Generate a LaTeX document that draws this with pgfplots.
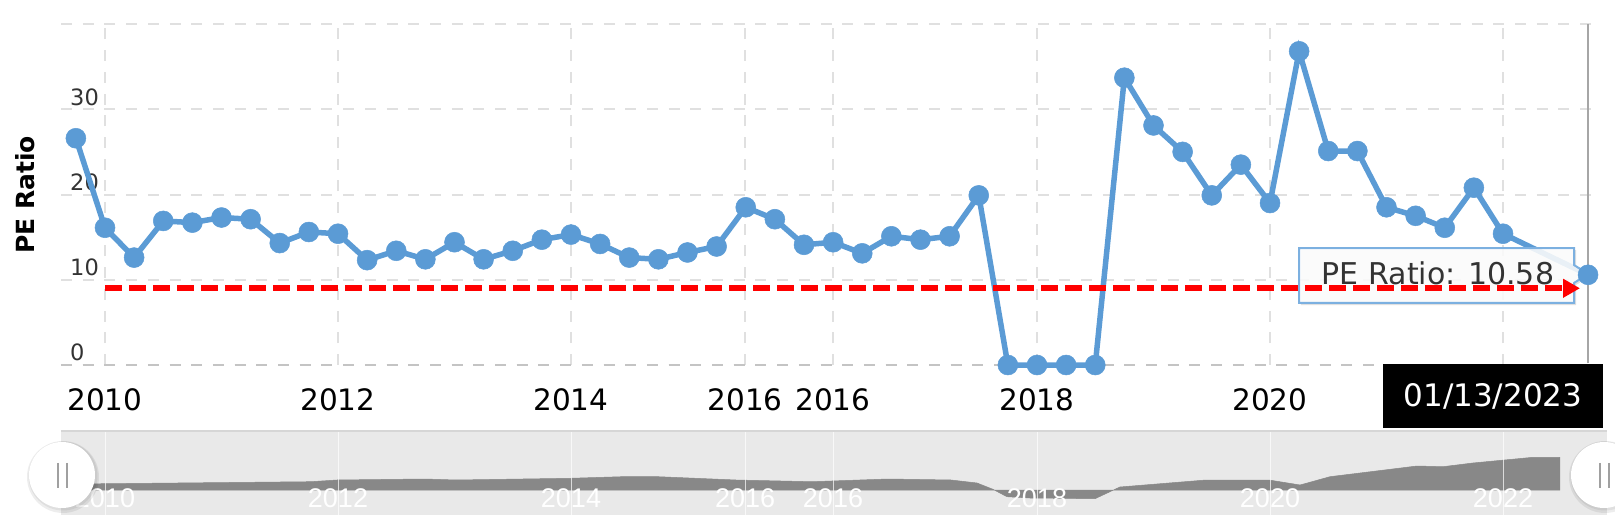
\documentclass[border=0pt]{standalone}
\usepackage{fontspec}
\setmainfont{DejaVu Sans}
\newfontfamily\navfont{Liberation Sans}
\usepackage{pgfplots}
\pgfplotsset{compat=1.18}
\usetikzlibrary{arrows.meta}

\definecolor{series}{HTML}{5B9BD5}
\definecolor{gridc}{HTML}{E0E0E0}
\definecolor{zeroc}{HTML}{C4C4C4}
\definecolor{navbg}{HTML}{E9E9E9}
\definecolor{navarea}{HTML}{888888}
\definecolor{navline}{HTML}{D6D6D6}
\definecolor{handlec}{HTML}{A0A0A0}
\definecolor{tickc}{HTML}{333333}
\definecolor{tipborder}{HTML}{7CB0E0}
\definecolor{crossc}{HTML}{A6A6A6}

\begin{document}
\begin{tikzpicture}
% page = 1615 x 518 px, axis lower-left sits at pixel (61,365)
\path[use as bounding box] (-61bp,-153bp) rectangle (1554bp,365bp);

% main PE chart
\begin{axis}[
    name=main,
    at={(0,0)}, anchor=south west,
    scale only axis, width=1534bp, height=341bp,
    xmin=2009.6223, xmax=2022.7897,
    ymin=0, ymax=40,
    clip=false,
    axis line style={draw=none},
    major tick length=0pt,
    xtick={2010,2012,2014,2015.494,2016.249,2018,2020,2022},
    xticklabels={2010,2012,2014,2016,2016,2018,2020,{}},
    ytick={0,10,20,30,40},
    yticklabels={0,10,20,30,{}},
    grid=major,
    major grid style={gridc, line width=2bp, dash pattern=on 11bp off 10.7bp},
    xticklabel style={font=\fontsize{29.5bp}{35bp}\selectfont, text=black,
        anchor=north, inner sep=0pt, yshift=-23bp},
    yticklabel style={font=\fontsize{22.5bp}{27bp}\selectfont, text=tickc,
        anchor=south west, inner sep=0pt, xshift=9bp, yshift=3.5bp},
    ylabel={PE Ratio},
    ylabel style={at={(axis description cs:-0.0235,0.4985)}, anchor=center,
        font=\fontsize{25bp}{30bp}\selectfont\bfseries},
]
% darker zero line and hover line
\draw[zeroc, line width=2bp, dash pattern=on 11bp off 10.7bp]
    (axis cs:2009.6223,0) -- (axis cs:2022.7897,0);
\draw[crossc, line width=2bp] (axis cs:2022.73,0.2) -- (axis cs:2022.73,40);

% quarterly PE ratio
\addplot[series, line width=5.5bp, mark=*, mark size=10bp,
    mark options={solid, fill=series, draw=series, line width=0.5bp}] coordinates {
    (2009.75,26.6) (2010.00,16.1) (2010.25,12.6) (2010.50,16.9)
    (2010.75,16.7) (2011.00,17.3) (2011.25,17.1) (2011.50,14.3)
    (2011.75,15.6) (2012.00,15.4) (2012.25,12.3) (2012.50,13.4)
    (2012.75,12.4) (2013.00,14.4) (2013.25,12.4) (2013.50,13.4)
    (2013.75,14.7) (2014.00,15.3) (2014.25,14.2) (2014.50,12.6)
    (2014.75,12.4) (2015.00,13.2) (2015.25,13.9) (2015.50,18.5)
    (2015.75,17.1) (2016.00,14.1) (2016.25,14.4) (2016.50,13.1)
    (2016.75,15.1) (2017.00,14.7) (2017.25,15.1) (2017.50,19.9)
    (2017.75,0)    (2018.00,0)    (2018.25,0)    (2018.50,0)
    (2018.75,33.7) (2019.00,28.1) (2019.25,25.0) (2019.50,19.9)
    (2019.75,23.5) (2020.00,19.0) (2020.25,36.8) (2020.50,25.1)
    (2020.75,25.1) (2021.00,18.5) (2021.25,17.5) (2021.50,16.1)
    (2021.75,20.8) (2022.00,15.4) (2022.73,10.58)
};

% tooltip
\fill[black, opacity=0.12]
    (axis cs:2020.266,13.489) -- (axis cs:2022.627,13.489) -- (axis cs:2022.627,11.495)
    -- (axis cs:2022.747,10.439) -- (axis cs:2022.627,9.384) -- (axis cs:2022.627,7.038)
    -- (axis cs:2020.266,7.038) -- cycle;
\draw[tipborder, line width=2bp, fill=white, fill opacity=0.88]
    (axis cs:2020.2489,13.724) -- (axis cs:2022.6094,13.724) -- (axis cs:2022.6094,11.730)
    -- (axis cs:2022.7296,10.674) -- (axis cs:2022.6094,9.619) -- (axis cs:2022.6094,7.273)
    -- (axis cs:2020.2489,7.273) -- cycle;
\node[text=tickc, font=\fontsize{30bp}{35bp}\selectfont, inner sep=0pt]
    at (axis cs:2021.4421,10.70) {PE Ratio: 10.58};

% red dashed marker line
\addplot[red, line width=6bp, dash pattern=on 17bp off 7bp,
    -{Triangle[length=17bp,width=18bp]}] coordinates {(2010,9) (2022.661,9)};
\end{axis}

% navigator
\begin{axis}[
    at={(0,-150bp)}, anchor=south west,
    scale only axis, width=1546bp, height=84bp,
    xmin=2009.6223, xmax=2022.8927,
    ymin=-25, ymax=59,
    axis background/.style={fill=navbg},
    axis line style={draw=none},
    major tick length=0pt,
    axis on top,
    xtick={2010,2012,2014,2015.494,2016.249,2018,2020,2022},
    xticklabels={2010,2012,2014,2016,2016,2018,2020,2022},
    ytick=\empty,
    xmajorgrids,
    major grid style={white, opacity=0.7, line width=1bp},
    xticklabel style={font=\navfont\fontsize{27bp}{32bp}\selectfont, text=white,
        anchor=north, inner sep=0pt, yshift=27bp},
]
\addplot[draw=navarea, fill=navarea, line width=0.5bp] coordinates {
    (2009.742,0) (2009.742,6) (2011.768,8.3) (2011.991,10) (2012.747,11)
    (2013.013,10) (2013.991,11.7) (2014.438,13.3) (2014.747,13.3)
    (2015.416,10) (2016.069,8.3) (2016.721,11) (2017.262,10)
    (2017.485,7) (2017.622,0.7) (2017.742,-6.7) (2017.940,-8)
    (2018.498,-8.7) (2018.712,3) (2019.451,10) (2019.991,10)
    (2020.258,5) (2020.515,13.3) (2021.262,24) (2021.485,23.3)
    (2021.742,27) (2022.258,32.7) (2022.489,32.7) (2022.489,0)
} \closedcycle;
\end{axis}

% overlays in pixel coordinates
\begin{scope}[x=1bp, y=-1bp, shift={(-61bp,365bp)}]
  \draw[navline, line width=1.5bp] (61,431) -- (1607,431);
  % date label
  \fill[black] (1383,364) rectangle (1603,428);
  \node[text=white, font=\fontsize{31bp}{36bp}\selectfont, inner sep=0pt]
      at (1493,396) {01/13/2023};
  % navigator handles
  \foreach \cx/\bx in {62/62.5,1604/1604.5}{
    \fill[black, opacity=0.07] (\cx+1,477) circle (36);
    \fill[black, opacity=0.06] (\cx+1,476) circle (34.5);
    \fill[white] (\cx,475) circle (33);
    \draw[handlec, line width=2bp] (\bx-4.5,463) -- (\bx-4.5,488);
    \draw[handlec, line width=2bp] (\bx+4.5,463) -- (\bx+4.5,488);
  }
\end{scope}
\end{tikzpicture}
\end{document}
